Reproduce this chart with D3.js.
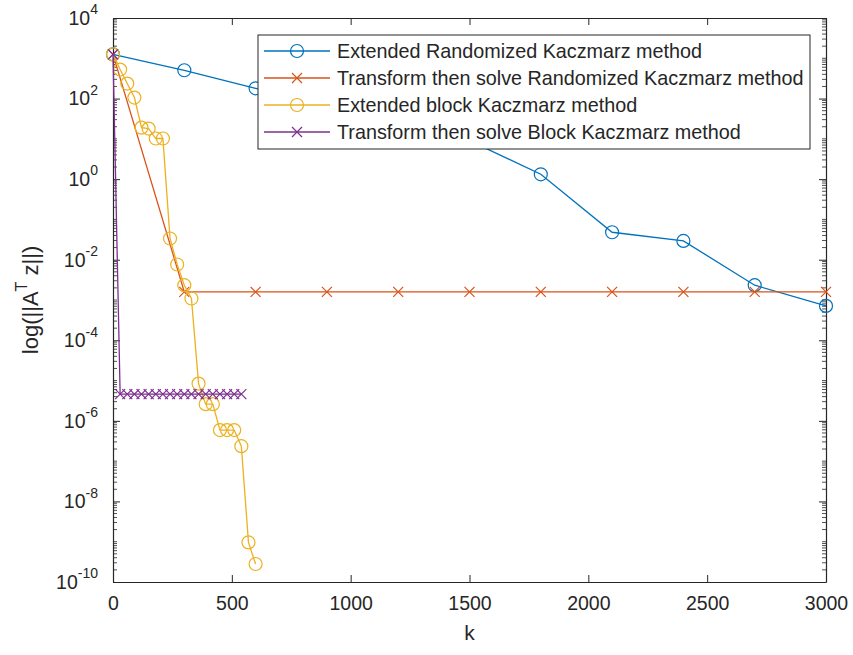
<!DOCTYPE html>
<html>
<head>
<meta charset="utf-8">
<script src="https://cdn.jsdelivr.net/npm/d3@7"></script>
<style>
  body { margin: 0; background: #fff; }
  text { font-family: "Liberation Sans", Arial, Helvetica, sans-serif; fill: #262626; }
</style>
</head>
<body>
<svg id="chart" width="853" height="655"></svg>
<script>
// Iteration counts and residual norms ||A^T z|| for each method
const kERK = [0, 300, 600, 900, 1200, 1500, 1800, 2100, 2400, 2700, 3000];
const valERK = [1250, 504, 180, 70, 25, 9, 1.32, 0.048, 0.0293, 0.00233, 0.000714];

const kTRK = [0, 300, 600, 900, 1200, 1500, 1800, 2100, 2400, 2700, 3000];
const valTRK = [1250, 0.00159, 0.00159, 0.00159, 0.00159, 0.00159, 0.00159, 0.00159, 0.00159, 0.00159, 0.00159];

const kEBK = [0, 30, 60, 90, 120, 150, 180, 210, 240, 270, 300, 330, 360, 390, 420, 450, 480, 510, 540, 570, 600];
const valEBK = [1250, 525, 236, 106, 19, 18, 10.2, 10.2, 0.0336, 0.0076, 0.00233, 0.00109,
                8.4e-6, 2.6e-6, 2.6e-6, 5.9e-7, 5.9e-7, 5.9e-7, 2.35e-7, 9.6e-10, 2.8e-10];

const kTBK = [0, 30, 60, 90, 120, 150, 180, 210, 240, 270, 300, 330, 360, 390, 420, 450, 480, 510, 540];
const valTBK = [1250, 4.6e-6, 4.6e-6, 4.6e-6, 4.6e-6, 4.6e-6, 4.6e-6, 4.6e-6, 4.6e-6, 4.6e-6,
                4.6e-6, 4.6e-6, 4.6e-6, 4.6e-6, 4.6e-6, 4.6e-6, 4.6e-6, 4.6e-6, 4.6e-6];

const seriesNames = [
  "Extended Randomized Kaczmarz method",
  "Transform then solve Randomized Kaczmarz method",
  "Extended block Kaczmarz method",
  "Transform then solve Block Kaczmarz method"
];
const seriesColors = ["#0072BD", "#D95319", "#EDB120", "#7E2F8E"];
const seriesMarkers = ["circle", "cross", "circle", "cross"];

const xTicks = [0, 500, 1000, 1500, 2000, 2500, 3000];
const yTickExps = [-10, -8, -6, -4, -2, 0, 2, 4];

const series = [
  { k: kERK, v: valERK },
  { k: kTRK, v: valTRK },
  { k: kEBK, v: valEBK },
  { k: kTBK, v: valTBK }
].map((s, i) => ({
  name: seriesNames[i], color: seriesColors[i], marker: seriesMarkers[i],
  pts: s.k.map((k, j) => ({ k, v: s.v[j] }))
}));

const L = 113, R = 826, T = 18, B = 582;
const axisColor = "#262626";

const svg = d3.select("#chart");
const x = d3.scaleLinear().domain([0, 3000]).range([L, R]);
const y = d3.scaleLog().domain([1e-10, 1e4]).range([B, T]);

const majorY = yTickExps.map(e => Math.pow(10, e));
const minorY = y.ticks(200).filter(v => !yTickExps.some(e => Math.abs(Math.log10(v) - e) < 1e-9));

// minor ticks on left and right sides
const gMinor = svg.append("g").attr("stroke", axisColor).attr("stroke-width", 0.8);
gMinor.selectAll("line.l").data(minorY).join("line")
  .attr("x1", L).attr("x2", L + 4).attr("y1", d => y(d)).attr("y2", d => y(d));
gMinor.selectAll("line.r").data(minorY).join("line")
  .attr("x1", R).attr("x2", R - 4).attr("y1", d => y(d)).attr("y2", d => y(d));

// axes with inward ticks
function styleAxis(g) {
  g.selectAll("path.domain").attr("stroke", axisColor).attr("stroke-width", 1.2);
  g.selectAll(".tick line").attr("stroke", axisColor).attr("stroke-width", 1);
}
const xAxisB = svg.append("g").attr("transform", `translate(0,${B})`)
  .call(d3.axisBottom(x).tickValues(xTicks).tickFormat(d3.format("d"))
    .tickSizeInner(-7).tickSizeOuter(0).tickPadding(14))
  .call(styleAxis);
xAxisB.selectAll(".tick text").attr("font-size", 19.5).attr("fill", axisColor)
  .attr("font-family", "'Liberation Sans', Arial, sans-serif");

svg.append("g").attr("transform", `translate(0,${T})`)
  .call(d3.axisTop(x).tickValues(xTicks).tickSizeInner(-7).tickSizeOuter(0).tickFormat(""))
  .call(styleAxis);

svg.append("g").attr("transform", `translate(${L},0)`)
  .call(d3.axisLeft(y).tickValues(majorY).tickSizeInner(-7).tickSizeOuter(0).tickFormat(""))
  .call(styleAxis);
svg.append("g").attr("transform", `translate(${R},0)`)
  .call(d3.axisRight(y).tickValues(majorY).tickSizeInner(-7).tickSizeOuter(0).tickFormat(""))
  .call(styleAxis);

// y tick labels as 10^n with superscript exponents
const yLab = svg.append("g").selectAll("text").data(yTickExps).join("text")
  .attr("font-size", 19.5)
  .attr("text-anchor", "end")
  .attr("x", L - 15)
  .attr("y", d => y(Math.pow(10, d)))
  .attr("dy", "0.35em");
yLab.append("tspan").text("10");
yLab.append("tspan").attr("font-size", 14).attr("dy", "-0.75em").text(d => String(d));

// axis titles
svg.append("text").attr("x", (L + R) / 2).attr("y", 640).attr("text-anchor", "middle")
  .attr("font-size", 21).text("k");
const yt = svg.append("text")
  .attr("transform", `translate(38,${(T + B) / 2}) rotate(-90)`)
  .attr("text-anchor", "middle").attr("font-size", 22);
yt.append("tspan").text("log(||A");
yt.append("tspan").attr("font-size", 16).attr("dy", "-0.7em").text("T");
yt.append("tspan").attr("dy", "0.5em").text(" z||)");

// data lines and markers
const line = d3.line().x(d => x(d.k)).y(d => y(d.v));
function drawMarker(g, type, color) {
  if (type === "circle") {
    g.append("circle").attr("r", 6.5).attr("fill", "none")
      .attr("stroke", color).attr("stroke-width", 1.2);
  } else {
    g.append("path").attr("d", "M-5,-5L5,5M-5,5L5,-5")
      .attr("stroke", color).attr("stroke-width", 1.2).attr("fill", "none");
  }
}
series.forEach(s => {
  const g = svg.append("g");
  g.append("path").datum(s.pts).attr("d", line)
    .attr("fill", "none").attr("stroke", s.color).attr("stroke-width", 1.3);
  g.selectAll("g.m").data(s.pts).join("g")
    .attr("transform", d => `translate(${x(d.k)},${y(d.v)})`)
    .each(function () { drawMarker(d3.select(this), s.marker, s.color); });
});

// legend
const lg = svg.append("g");
lg.append("rect").attr("x", 258).attr("y", 35).attr("width", 552).attr("height", 114)
  .attr("fill", "#fff").attr("stroke", axisColor).attr("stroke-width", 1);
series.forEach((s, i) => {
  const ry = 51 + i * 27;
  lg.append("line").attr("x1", 264).attr("x2", 330).attr("y1", ry).attr("y2", ry)
    .attr("stroke", s.color).attr("stroke-width", 1.3);
  const mg = lg.append("g").attr("transform", `translate(297,${ry})`);
  drawMarker(mg, s.marker, s.color);
  lg.append("text").attr("x", 337).attr("y", ry).attr("dy", "0.35em")
    .attr("font-size", 19.8).attr("fill", "#000").text(s.name);
});
</script>
</body>
</html>
